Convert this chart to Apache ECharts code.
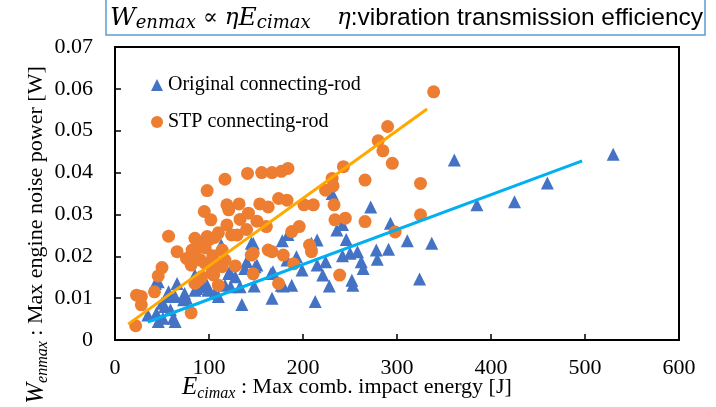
<!DOCTYPE html>
<html>
<head>
<meta charset="utf-8">
<script src="https://cdn.jsdelivr.net/npm/echarts@6/dist/echarts.min.js"></script>
<style>html,body{margin:0;padding:0;background:#fff}#c{width:716px;height:407px}</style>
</head>
<body>
<div id="c"></div>
<script>
// ---- data ----
const xTickLabels = ['0','100','200','300','400','500','600'];
const yTickLabels = ['0','0.01','0.02','0.03','0.04','0.05','0.06','0.07'];
const seriesNames = ['Original connecting-rod','STP connecting-rod'];

const originalData = [
 [35,0.0060],[44,0.0064],[46,0.0044],[51,0.0052],[50,0.0088],[53,0.0080],[59,0.0072],[62,0.0052],[64,0.0044],
 [43,0.0135],[46,0.0139],[55,0.0104],[57,0.0115],[64,0.0104],[66,0.0135],[73,0.0096],[74,0.0111],[76,0.0100],
 [85,0.0119],[87,0.0123],[85,0.0155],[90,0.0147],[94,0.0127],[98,0.0131],[99,0.0119],[106,0.0111],[110,0.0104],
 [113,0.0227],[117,0.0131],[121,0.0159],[122,0.0163],[123,0.0127],[128,0.0151],[133,0.0127],[135,0.0085],
 [138,0.0171],[140,0.0187],[145,0.0231],[148,0.0129],[149,0.0175],[147,0.0231],[151,0.0179],[166,0.0159],
 [167,0.0100],[168,0.0163],[177,0.0131],[178,0.0237],[179,0.0129],[183,0.0191],[184,0.0252],[188,0.0131],
 [193,0.0199],[199,0.0167],[209,0.0231],[213,0.0092],[215,0.0179],[215,0.0239],[221,0.0155],[224,0.0187],
 [228,0.0129],[231,0.0350],[236,0.0263],[242,0.0276],[242,0.0201],[246,0.0240],[250,0.0207],[252,0.0143],
 [253,0.0131],[258,0.0211],[262,0.0187],[264,0.0171],[272,0.0318],[278,0.0215],[279,0.0193],[291,0.0217],
 [293,0.0279],[311,0.0237],[324,0.0146],[337,0.0231],[361,0.0430],[385,0.0323],[425,0.0330],[460,0.0375],
 [530,0.0444]
];
const stpData = [
 [22,0.0034],[23,0.0107],[28,0.0084],[28,0.0104],[42,0.0115],[46,0.0153],[50,0.0173],[57,0.0248],[66,0.0211],
 [76,0.0195],[81,0.0179],[82,0.0215],[85,0.0207],[85,0.0243],[81,0.0065],[85,0.0135],[89,0.0143],[90,0.0227],
 [91,0.0191],[92,0.0151],[95,0.0307],[96,0.0220],[96,0.0183],[98,0.0357],[98,0.0247],[100,0.0240],[102,0.0287],
 [103,0.0159],[104,0.0201],[105,0.0155],[106,0.0245],[106,0.0179],[110,0.0256],[110,0.0131],[114,0.0175],
 [114,0.0215],[117,0.0384],[117,0.0191],[119,0.0323],[119,0.0275],[121,0.0311],[124,0.0251],[128,0.0177],
 [130,0.0251],[132,0.0325],[133,0.0288],[140,0.0264],[141,0.0398],[142,0.0303],[145,0.0203],[147,0.0207],
 [147,0.0158],[151,0.0284],[154,0.0325],[156,0.0400],[161,0.0271],[163,0.0318],[163,0.0215],[167,0.0400],
 [167,0.0211],[174,0.0338],[174,0.0135],[177,0.0403],[179,0.0203],[183,0.0334],[184,0.0410],[188,0.0259],
 [190,0.0182],[196,0.0271],[201,0.0323],[207,0.0227],[209,0.0211],[211,0.0323],[224,0.0358],[231,0.0386],
 [232,0.0368],[233,0.0323],[234,0.0287],[239,0.0155],[243,0.0414],[245,0.0291],[266,0.0382],[266,0.0283],
 [280,0.0476],[285,0.0452],[290,0.0510],[295,0.0422],[298,0.0258],[325,0.0374],[325,0.0299],[339,0.0593]
];
// fitted trend line end points
const originalFit = [[35,0.0043],[497,0.0428]];
const stpFit = [[14,0.0038],[332,0.0552]];

// ---- chart ----
const chart = echarts.init(document.getElementById('c'), null, {renderer:'canvas'});
const serif = 'Liberation Serif';
const axisCommon = {
  axisLine:{show:true, onZero:false, lineStyle:{color:'#000', width:2}},
  axisTick:{show:true, inside:true, length:6, lineStyle:{color:'#000', width:1.5}},
  splitLine:{show:false}
};
chart.setOption({
  animation:false,
  backgroundColor:'#fff',
  grid:{left:115, right:37, top:47, bottom:67, show:true, borderColor:'#000', borderWidth:2, backgroundColor:'transparent'},
  xAxis:Object.assign({
    type:'value', min:0, max:600, interval:100,
    axisLabel:{margin:17, fontFamily:serif, fontSize:22, color:'#000',
      formatter:(v)=>xTickLabels[Math.round(v/100)]}
  }, axisCommon),
  yAxis:Object.assign({
    type:'value', min:0, max:0.07, interval:0.01,
    axisLabel:{margin:22, fontFamily:serif, fontSize:22, color:'#000',
      formatter:(v)=>yTickLabels[Math.round(v/0.01)]}
  }, axisCommon),
  legend:{
    orient:'vertical', left:146, top:70, itemGap:17, itemWidth:12, itemHeight:12,
    data:[{name:seriesNames[0], icon:'triangle'},{name:seriesNames[1], icon:'circle'}],
    textStyle:{fontFamily:serif, fontSize:20, color:'#000'}
  },
  series:[
    {name:seriesNames[0], type:'scatter', symbol:'triangle', symbolSize:13,
     itemStyle:{color:'#4472C4', opacity:1}, data:originalData, z:2},
    {name:seriesNames[1], type:'scatter', symbol:'circle', symbolSize:13,
     itemStyle:{color:'#ED7D31', opacity:1}, data:stpData, z:3},
    {name:'fit1', type:'line', data:originalFit, symbol:'none', lineStyle:{color:'#00B0F0', width:3}, z:4},
    {name:'fit2', type:'line', data:stpFit, symbol:'none', lineStyle:{color:'#FFA800', width:3}, z:4}
  ],
  graphic:[
    {type:'rect', shape:{x:106, y:-2, width:599, height:37}, style:{fill:'#fff', stroke:'#5B9BD5', lineWidth:1.5}, z:10},
    {type:'text', x:110, y:18, z:11, style:{
      text:'{w|W}{s|enmax}{n| ∝ }{r|η}{w|E}{s|cimax}',
      textVerticalAlign:'middle',
      rich:{
        w:{fontFamily:'DejaVu Serif', fontStyle:'italic', fontSize:25, color:'#000'},
        s:{fontFamily:'DejaVu Serif', fontStyle:'italic', fontSize:18, color:'#000', padding:[10,0,0,0]},
        n:{fontFamily:'DejaVu Serif', fontSize:22, color:'#000'},
        r:{fontFamily:'DejaVu Serif', fontStyle:'italic', fontSize:23, color:'#FF0000'}
      }}},
    {type:'text', x:337, y:18, z:11, style:{
      text:'{e|η}{a|:vibration transmission efficiency}',
      textVerticalAlign:'middle',
      rich:{
        e:{fontFamily:'DejaVu Serif', fontStyle:'italic', fontSize:23, color:'#000'},
        a:{fontFamily:'Liberation Sans', fontSize:24.5, color:'#000'}
      }}},
    {type:'text', x:182, y:387, z:11, style:{
      text:'{w|E}{s|cimax}{n| : Max comb. impact energy [J]}',
      textVerticalAlign:'middle',
      rich:{
        w:{fontFamily:serif, fontStyle:'italic', fontSize:25, color:'#000'},
        s:{fontFamily:serif, fontStyle:'italic', fontSize:16, color:'#000', padding:[14,0,0,0]},
        n:{fontFamily:serif, fontSize:22, color:'#000'}
      }}},
    {type:'text', x:36, y:235, rotation:Math.PI/2, z:11, style:{
      text:'{w|W}{s|enmax}{n| : Max engine noise power [W]}',
      textAlign:'center', textVerticalAlign:'middle',
      rich:{
        w:{fontFamily:serif, fontStyle:'italic', fontSize:25, color:'#000'},
        s:{fontFamily:serif, fontStyle:'italic', fontSize:16, color:'#000', padding:[14,0,0,0]},
        n:{fontFamily:serif, fontSize:22, color:'#000'}
      }}}
  ]
});
</script>
</body>
</html>
